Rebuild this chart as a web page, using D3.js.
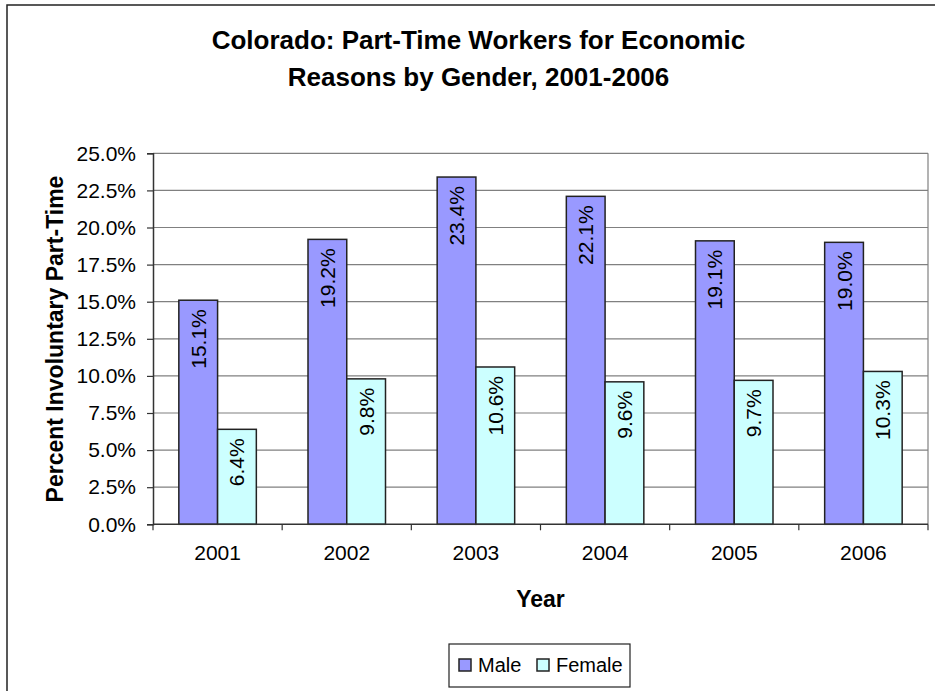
<!DOCTYPE html>
<html><head><meta charset="utf-8">
<script src="https://cdn.jsdelivr.net/npm/d3@7"></script>
<style>body{margin:0;background:#fff}svg{display:block}text{font-family:"Liberation Sans",Arial,sans-serif;fill:#000}</style>
</head><body><svg id="c" width="935" height="691"></svg>
<script>
const years = ["2001","2002","2003","2004","2005","2006"];
const male = [15.1,19.2,23.4,22.1,19.1,19.0];
const female = [6.4,9.8,10.6,9.6,9.7,10.3];
const seriesNames = ["Male","Female"];
const seriesColors = ["#9999ff","#ccffff"];
const yTicks = [0,2.5,5,7.5,10,12.5,15,17.5,20,22.5,25];
const titleLines = ["Colorado: Part-Time Workers for Economic","Reasons by Gender, 2001-2006"];

const svg = d3.select("#c");
const L=153, R=928, T=153.3, B=524.3;
svg.append("rect").attr("x",7).attr("y",5).attr("width",940).attr("height",700)
  .attr("fill","#fff").attr("stroke","#222").attr("stroke-width",1.5);

const x = d3.scaleBand().domain(years).range([L,R]).paddingInner(0.4).paddingOuter(0.2);
const x0 = d3.scaleBand().domain(years).range([L,R]);
const xs = d3.scaleBand().domain(seriesNames).range([0,x.bandwidth()]);
const y = d3.scaleLinear().domain([0,25]).range([B,T]);

// gridlines
svg.append("g").selectAll("line").data(yTicks.filter(d=>d>0)).join("line")
  .attr("x1",L).attr("x2",R).attr("y1",d=>y(d)).attr("y2",d=>y(d))
  .attr("stroke","#808080").attr("stroke-width",1.2);
svg.append("line").attr("x1",R).attr("x2",R).attr("y1",T).attr("y2",B).attr("stroke","#808080").attr("stroke-width",1.2);

// y axis
const ya = svg.append("g").attr("transform",`translate(${L},0)`)
  .call(d3.axisLeft(y).tickValues(yTicks).tickFormat(d=>d3.format(".1f")(d)+"%").tickSize(6).tickPadding(11));
ya.select(".domain").attr("stroke","#333").attr("stroke-width",1.5);
ya.selectAll(".tick line").attr("stroke","#333").attr("stroke-width",1.2);
ya.selectAll("text").attr("font-size","21px").attr("fill","#000");

// bars
const data = years.map((yr,i)=>({yr, vals:[male[i],female[i]]}));
const groups = svg.append("g").selectAll("g").data(data).join("g")
  .attr("transform",d=>`translate(${x(d.yr)},0)`);
groups.selectAll("rect").data(d=>d.vals.map((v,j)=>({v,s:seriesNames[j],c:seriesColors[j]}))).join("rect")
  .attr("x",d=>xs(d.s)).attr("width",xs.bandwidth())
  .attr("y",d=>y(d.v)).attr("height",d=>y(0)-y(d.v))
  .attr("fill",d=>d.c).attr("stroke","#222").attr("stroke-width",1.5);
groups.selectAll("text").data(d=>d.vals.map((v,j)=>({v,s:seriesNames[j]}))).join("text")
  .attr("transform",d=>`translate(${xs(d.s)+xs.bandwidth()/2+7.5},${y(d.v)+9}) rotate(-90)`)
  .attr("text-anchor","end").attr("font-size","21px")
  .text(d=>d3.format(".1f")(d.v)+"%");

// x axis
const xa = svg.append("g").attr("transform",`translate(0,${B})`)
  .call(d3.axisBottom(x0).tickSize(0).tickPadding(21));
xa.select(".domain").remove();
xa.selectAll("text").attr("font-size","21px").attr("fill","#000");
svg.append("line").attr("x1",L).attr("x2",R).attr("y1",B).attr("y2",B).attr("stroke","#333").attr("stroke-width",1.5);
svg.append("g").selectAll("line").data(years.concat(["end"])).join("line")
  .attr("x1",(d,i)=>L+i*x0.step()).attr("x2",(d,i)=>L+i*x0.step())
  .attr("y1",B).attr("y2",B+6).attr("stroke","#333").attr("stroke-width",1.2);

// titles
svg.append("text").attr("x",478.5).attr("y",49).attr("text-anchor","middle")
  .attr("font-size","26px").attr("font-weight","bold").text(titleLines[0]);
svg.append("text").attr("x",478.5).attr("y",86).attr("text-anchor","middle")
  .attr("font-size","26px").attr("font-weight","bold").text(titleLines[1]);
svg.append("text").attr("x",(L+R)/2).attr("y",607).attr("text-anchor","middle")
  .attr("font-size","23px").attr("font-weight","bold").text("Year");
svg.append("text").attr("transform",`translate(63,339) rotate(-90)`).attr("text-anchor","middle")
  .attr("font-size","23px").attr("font-weight","bold").text("Percent Involuntary Part-Time");

// legend
const lg = svg.append("g");
lg.append("rect").attr("x",449).attr("y",644).attr("width",181).attr("height",43)
  .attr("fill","#fff").attr("stroke","#222").attr("stroke-width",1.2);
const lx = [459,537];
const tx = [478,556];
seriesNames.forEach((s,i)=>{
  lg.append("rect").attr("x",lx[i]).attr("y",659).attr("width",12).attr("height",12)
    .attr("fill",seriesColors[i]).attr("stroke","#222").attr("stroke-width",1.5);
  lg.append("text").attr("x",tx[i]).attr("y",672).attr("font-size","20px").text(s);
});
</script></body></html>
